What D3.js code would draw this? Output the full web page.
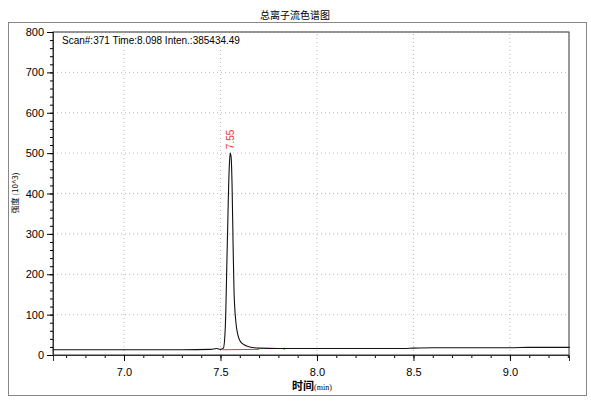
<!DOCTYPE html>
<html><head><meta charset="UTF-8">
<script src="https://cdn.jsdelivr.net/npm/d3@7"></script>
<style>body{margin:0;background:#fff;font-family:Arial,"Liberation Sans",sans-serif}</style>
</head><body>
<script>
const times = [6.63,7.0,7.3,7.45,7.48,7.5,7.515,7.525,7.535,7.545,7.55,7.555,7.56,7.565,7.57,7.58,7.59,7.60,7.62,7.65,7.70,7.8,8.0,8.45,8.5,8.6,9.0,9.1,9.31]
const intensity = [13,13,13,14,16,14,17,70,270,460,500,490,420,280,160,80,50,36,26,20,17,16,16,16,17,18,18,19,19]
const xTicks = [7.0,7.5,8.0,8.5,9.0]
const yTicks = [0,100,200,300,400,500,600,700,800]
const peakLabel = {t:7.55, v:500, text:"7.55"}

const W=591,H=405
const m={l:53,r:22,t:32,b:50}
const svg=d3.select("body").append("svg").attr("width",W).attr("height",H)
svg.append("rect").attr("x",8.5).attr("y",22.5).attr("width",578).attr("height",373)
  .attr("fill","none").attr("stroke","#888")
const x=d3.scaleLinear().domain([6.632,9.306]).range([m.l,W-m.r])
const y=d3.scaleLinear().domain([0,800]).range([355,32])

svg.append("text").attr("x",295).attr("y",19).attr("text-anchor","middle")
  .attr("font-size",10).attr("font-family","Noto Sans CJK SC").text("总离子流色谱图")

const g=svg.append("g")
// grid
g.selectAll(".gx").data(xTicks).enter().append("line")
  .attr("x1",d=>x(d)).attr("x2",d=>x(d)).attr("y1",y(0)).attr("y2",y(800))
  .attr("stroke","#bbb").attr("stroke-dasharray","1,3")
g.selectAll(".gy").data(yTicks.slice(1)).enter().append("line")
  .attr("x1",x.range()[0]).attr("x2",x.range()[1]).attr("y1",d=>y(d)).attr("y2",d=>y(d))
  .attr("stroke","#bbb").attr("stroke-dasharray","1,3")

// frame
g.append("rect").attr("x",m.l).attr("y",32).attr("width",x.range()[1]-m.l).attr("height",355-32)
  .attr("fill","none").attr("stroke","#333")

const ax=d3.axisBottom(x).tickValues(xTicks).tickFormat(d3.format(".1f")).tickSize(6)
const axm=d3.axisBottom(x).tickValues(d3.range(6.7,9.31,0.1)).tickFormat("").tickSize(3)
g.append("g").attr("transform","translate(0,355)").call(axm)
g.append("g").attr("transform","translate(0,355)").call(ax).call(a=>a.selectAll("text").attr("font-size",11).attr("dy","1.1em"))
const ay=d3.axisLeft(y).tickValues(yTicks).tickSize(6)
const aym=d3.axisLeft(y).tickValues(d3.range(0,801,20)).tickFormat("").tickSize(3)
g.append("g").attr("transform",`translate(${m.l},0)`).call(aym)
g.append("g").attr("transform",`translate(${m.l},0)`).call(ay).call(a=>a.selectAll("text").attr("font-size",11))
g.selectAll(".domain").attr("stroke","#333")

svg.append("text").attr("x",312).attr("y",390).attr("text-anchor","middle").attr("font-size",11)
  .html('<tspan font-family="Noto Sans CJK SC" font-weight="bold">时间</tspan><tspan font-family="Liberation Serif" font-size="8">(min)</tspan>')
svg.append("text").attr("transform","translate(18,193) rotate(-90)").attr("text-anchor","middle").attr("font-size",8)
  .attr("font-family","Noto Sans CJK SC").text("强度 (10^3)")

svg.append("text").attr("x",62).attr("y",44).attr("font-size",10).text("Scan#:371  Time:8.098  Inten.:385434.49")

// baseline of peak
g.append("line").attr("x1",x(7.51)).attr("x2",x(7.7)).attr("y1",y(13)).attr("y2",y(14)).attr("stroke","#e33")
g.append("line").attr("x1",x(7.83)).attr("x2",x(7.83)).attr("y1",y(12)).attr("y2",y(18)).attr("stroke","#3a3")

g.append("path").datum(d3.zip(times,intensity)).attr("fill","none").attr("stroke","#111").attr("stroke-width",1.1)
  .attr("d",d3.line().x(d=>x(d[0])).y(d=>y(d[1])).curve(d3.curveMonotoneX))

g.append("text").attr("transform",`translate(${x(peakLabel.t)+4},${y(peakLabel.v)-4}) rotate(-90)`)
  .attr("font-size",10).attr("fill","#e33").text(peakLabel.text)
</script>
</body></html>
